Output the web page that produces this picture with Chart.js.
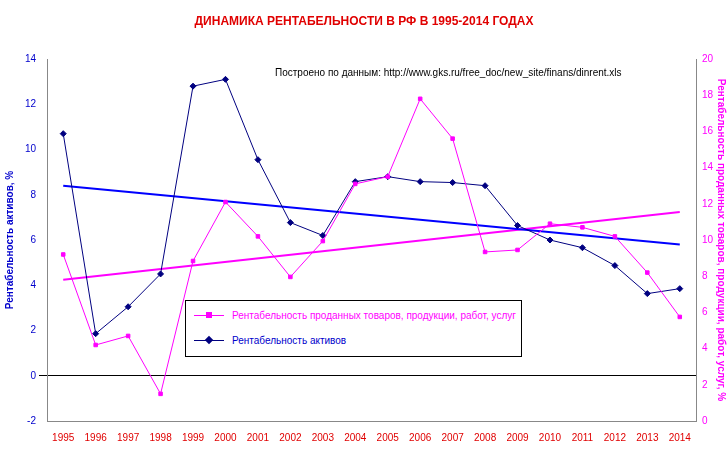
<!DOCTYPE html>
<html><head><meta charset="utf-8">
<script src="https://cdn.jsdelivr.net/npm/chart.js@4/dist/chart.umd.min.js"></script>
<style>
body{margin:0;background:#fff;font-family:"Liberation Sans",Arial,sans-serif}
#wrap{position:relative;width:728px;height:453px}
#title{position:absolute;top:14px;left:0;width:728px;text-align:center;color:#e00000;font-weight:bold;font-size:12px}
#note{position:absolute;top:67px;left:275px;font-size:10px;color:#000}
#leg{position:absolute;left:185px;top:300px;width:335px;height:55px;border:1px solid #000;background:#fff;font-size:10px}
.li{position:absolute;left:8px;display:flex;align-items:center}
.li span.m{display:inline-block;width:30px;height:1px;position:relative;margin-right:8px}
.li span.m i{position:absolute;left:12px;top:-3px;width:6px;height:6px}
</style></head><body>
<div id="wrap">
<canvas id="c" width="728" height="453"></canvas>
<div id="title">ДИНАМИКА РЕНТАБЕЛЬНОСТИ В РФ В 1995-2014 ГОДАХ</div>
<div id="note">Построено по данным: http://www.gks.ru/free_doc/new_site/finans/dinrent.xls</div>
<div id="leg">
 <div class="li" style="top:9px;color:#ff00ff"><span class="m" style="background:#ff00ff"><i style="background:#ff00ff"></i></span>Рентабельность проданных товаров, продукции, работ, услуг</div>
 <div class="li" style="top:34px;color:#0000cc"><span class="m" style="background:#000080"><i style="background:#000080;transform:rotate(45deg)"></i></span>Рентабельность активов</div>
</div>
</div>
<script>
const years = ['1995','1996','1997','1998','1999','2000','2001','2002','2003','2004','2005','2006','2007','2008','2009','2010','2011','2012','2013','2014'];
const assetsReturn = [10.7,1.86,3.05,4.5,12.8,13.1,9.55,6.77,6.2,8.58,8.8,8.58,8.54,8.4,6.64,6.0,5.66,4.87,3.63,3.85];
const salesReturn = [9.2,4.2,4.7,1.5,8.84,12.1,10.2,7.96,9.94,13.1,13.5,17.8,15.6,9.34,9.45,10.9,10.7,10.2,8.2,5.75];
const assetsTrend = [8.4,5.8];
const salesTrend = [7.8,11.55];

const tr = (v) => [{x:years[0],y:v[0]},{x:years[years.length-1],y:v[1]}];

new Chart(document.getElementById('c'), {
  type:'line',
  data:{labels:years,datasets:[
    {data:salesReturn,yAxisID:'y2',borderColor:'#ff00ff',backgroundColor:'#ff00ff',borderWidth:1,pointStyle:'rect',pointRadius:2.5,tension:0},
    {data:assetsReturn,yAxisID:'y',borderColor:'#000080',backgroundColor:'#000080',borderWidth:1,pointStyle:'rectRot',pointRadius:3,tension:0},
    {data:tr(assetsTrend),yAxisID:'y',borderColor:'#0000ff',borderWidth:2,pointRadius:0},
    {data:tr(salesTrend),yAxisID:'y2',borderColor:'#ff00ff',borderWidth:2,pointRadius:0}
  ]},
  options:{
    responsive:false,animation:false,
    layout:{padding:{top:59,left:0,right:0,bottom:6}},
    plugins:{legend:{display:false},tooltip:{enabled:false}},
    scales:{
      x:{offset:true,grid:{display:false},border:{color:'#888'},
         ticks:{color:'#e00000',font:{size:10,family:'Liberation Sans'},maxRotation:0,autoSkip:false}},
      y:{position:'left',min:-2,max:14,afterFit:s=>{s.width=47;},
         ticks:{stepSize:2,color:'#0000cc',font:{size:10,family:'Liberation Sans'}},
         grid:{drawTicks:true,color:c=>c.tick.value===0?'#000':'rgba(0,0,0,0)'},
         border:{color:'#888'},
         title:{display:true,text:'Рентабельность активов, %',color:'#0000cc',font:{size:10,weight:'bold',family:'Liberation Sans'}}},
      y2:{position:'right',min:0,max:20,afterFit:s=>{s.width=32;},
         ticks:{stepSize:2,padding:2,color:'#ff00ff',font:{size:10,family:'Liberation Sans'}},
         grid:{display:false,tickLength:4},border:{color:'#888'},
         title:{display:true,padding:1,text:'Рентабельность проданных товаров, продукции, работ, услуг, %',color:'#ff00ff',font:{size:10,weight:'bold',family:'Liberation Sans'}}}
    }
  }
});
</script>
</body></html>
